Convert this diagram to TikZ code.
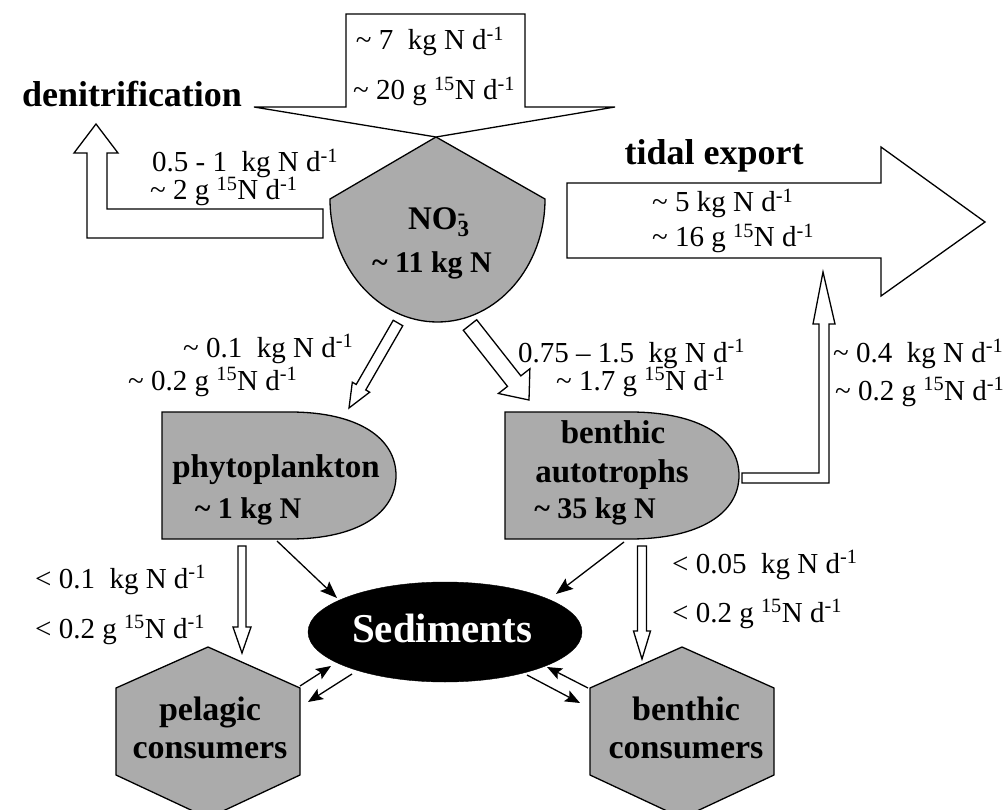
\documentclass[tikz,border=0pt]{standalone}
\usepackage{fontspec}
\setmainfont{Liberation Serif}
\usetikzlibrary{calc,arrows.meta,shapes.geometric}
\newcommand\tld{\textasciitilde}
\newcommand\dm{d\textsuperscript{-1}}
\newcommand\Nf{\textsuperscript{15}N}
\newcommand\harrow[5]{%
  \coordinate (hbase) at ($(#2)!#5!(#1)$);
  \draw[hollow] ($(#1)!#3!90:(#2)$) -- ($(hbase)!#3!-90:(#1)$) -- ($(hbase)!#4!-90:(#1)$) -- (#2) -- ($(hbase)!#4!90:(#1)$) -- ($(hbase)!#3!90:(#1)$) -- ($(#1)!#3!-90:(#2)$) -- cycle;}
\begin{document}
\begin{tikzpicture}[x=1pt,y=-1pt,
  lab/.style={font=\fontsize{29}{33}\selectfont, inner sep=0pt},
  bold/.style={font=\fontsize{33}{36}\selectfont\bfseries, inner sep=0pt},
  title/.style={font=\fontsize{36}{40}\selectfont\bfseries, inner sep=0pt},
  pool/.style={draw=black, line width=1.3pt, fill=black!33},
  hollow/.style={draw=black, line width=1.3pt, fill=white, line join=miter},
  flow/.style={line width=1.3pt, -{Stealth[length=17pt,width=13pt,inset=3pt]}},
  sflow/.style={line width=1.3pt, -{Stealth[length=15pt,width=12pt,inset=3pt]}}]
\useasboundingbox (0,0) rectangle (1004,810);

% ---- pools ----
\draw[pool] (436,137) -- (545,199) arc[start angle=0, end angle=-180, x radius=107.5pt, y radius=123pt] -- cycle;
\draw[pool] (162,412) -- (290,412) .. controls (358,412) and (396,438) .. (396,475.5) .. controls (396,513) and (358,539) .. (290,539) -- (162,539) -- cycle;
\draw[pool] (505,412) -- (630,412) .. controls (700,412) and (739,438) .. (739,475.5) .. controls (739,513) and (700,539) .. (630,539) -- (505,539) -- cycle;
\draw[pool] (208,647) -- (300,688) -- (300,775) -- (208,818) -- (116,775) -- (116,688) -- cycle;
\draw[pool] (682,647) -- (774,688) -- (774,775) -- (682,818) -- (590,775) -- (590,688) -- cycle;
\node[draw=black, fill=black, ellipse, minimum width=274pt, minimum height=100pt, inner sep=0pt] (sed) at (445,632) {};

% ---- big hollow arrows ----
\draw[hollow] (346,14) -- (525,14) -- (525,107) -- (615,107) -- (436,137) -- (254,107) -- (346,107) -- cycle;
\draw[hollow] (323,209) -- (107,209) -- (107,153) -- (118,153) -- (96,124) -- (74,153) -- (87,153) -- (87,238) -- (323,238) -- cycle;
\draw[hollow] (567,183) -- (881,183) -- (881,147) -- (985,222) -- (881,296) -- (881,258) -- (567,258) -- cycle;
\draw[hollow] (742,473) -- (819,473) -- (819,324) -- (813,324) -- (823,272) -- (835,324) -- (829,324) -- (829,483) -- (742,483) -- cycle;

% ---- small hollow arrows ----
\coordinate (n2pA) at (398,323); \coordinate (n2pB) at (349,408);
\harrow{n2pA}{n2pB}{5.5pt}{10pt}{24pt}
\coordinate (n2bA) at (470,325); \coordinate (n2bB) at (529,400);
\harrow{n2bA}{n2bB}{8.5pt}{20pt}{24pt}
\coordinate (p2cA) at (242,546); \coordinate (p2cB) at (242,653);
\harrow{p2cA}{p2cB}{4pt}{9pt}{26pt}
\coordinate (b2cA) at (642,546); \coordinate (b2cB) at (642,659);
\harrow{b2cA}{b2cB}{4.5pt}{8.5pt}{28pt}

% ---- thin flows ----
\coordinate (phyS) at (277,541); \coordinate (sedP) at (337,598);
\coordinate (benS) at (624,542); \coordinate (sedB) at (556,594);
\draw[flow] (phyS) -- (sedP);
\draw[flow] (benS) -- (sedB);
\coordinate (pel1) at (300,686); \coordinate (sedL1) at (331,666);
\coordinate (sedL2) at (352,674); \coordinate (pel2) at (308,702);
\draw[sflow] (pel1) -- (sedL1);
\draw[sflow] (sedL2) -- (pel2);
\coordinate (sedR1) at (527,675); \coordinate (bc1) at (580,703);
\coordinate (bc2) at (588,688); \coordinate (sedR2) at (547,667);
\draw[sflow] (sedR1) -- (bc1);
\draw[sflow] (bc2) -- (sedR2);

% ---- texts ----
\node[title, anchor=base] (denit) at (132,107) {denitrification};
\node[title, anchor=base] (tidal) at (714,165) {tidal export};
\node[lab, anchor=base] (in1) at (430,50) {\tld{} 7\ \ kg N \dm};
\node[lab, anchor=base] (in2) at (434,100) {\tld{} 20 g \Nf{} \dm};
\node[lab, anchor=base west] (dn1) at (152,172) {0.5 - 1\ \ kg N \dm};
\node[lab, anchor=base west] (dn2) at (150,200) {\tld{} 2 g \Nf{} \dm};
\node[lab, anchor=base west] (te1) at (652,212) {\tld{} 5 kg N \dm};
\node[lab, anchor=base west] (te2) at (652,247) {\tld{} 16 g \Nf{} \dm};
\node[bold, anchor=base] (no3) at (437,230) {NO\rlap{\textsubscript{3}}\textsuperscript{-}};
\node[bold, font=\fontsize{30}{34}\selectfont\bfseries, anchor=base] (no3m) at (432,273) {\tld{} 11 kg N};
\node[lab, anchor=base west] (np1) at (183,357) {\tld{} 0.1\ \ kg N \dm};
\node[lab, anchor=base west] (np2) at (128,390) {\tld{} 0.2 g \Nf{} \dm};
\node[lab, anchor=base west] (nb1) at (518,362) {0.75 -- 1.5\ \ kg N \dm};
\node[lab, anchor=base west] (nb2) at (556,390) {\tld{} 1.7 g \Nf{} \dm};
\node[lab, anchor=base west] (be1) at (833,362) {\tld{} 0.4\ \ kg N \dm};
\node[lab, anchor=base west] (be2) at (835,400) {\tld{} 0.2 g \Nf{} \dm};
\node[bold, anchor=base] (phy) at (276,477) {phytoplankton};
\node[bold, font=\fontsize{30}{34}\selectfont\bfseries, anchor=base] (phym) at (248,518) {\tld{} 1 kg N};
\node[bold, anchor=base] (ben1) at (613,443) {benthic};
\node[bold, anchor=base] (ben2) at (612,482) {autotrophs};
\node[bold, font=\fontsize{30}{34}\selectfont\bfseries, anchor=base] (benm) at (595,518) {\tld{} 35 kg N};
\node[lab, anchor=base west] (pc1) at (35,588) {< 0.1\ \ kg N \dm};
\node[lab, anchor=base west] (pc2) at (35,638) {< 0.2 g \Nf{} \dm};
\node[lab, anchor=base west] (bc1t) at (672,573) {< 0.05\ \ kg N \dm};
\node[lab, anchor=base west] (bc2t) at (672,622) {< 0.2 g \Nf{} \dm};
\node[font=\fontsize{41}{44}\selectfont\bfseries, text=white, inner sep=0pt, anchor=base] (sedt) at (442,642) {Sediments};
\node[bold, font=\fontsize{34}{36}\selectfont\bfseries, anchor=base] (pel1t) at (210,720) {pelagic};
\node[bold, font=\fontsize{34}{36}\selectfont\bfseries, anchor=base] (pel2t) at (210,758) {consumers};
\node[bold, font=\fontsize{34}{36}\selectfont\bfseries, anchor=base] (bcn1t) at (686,720) {benthic};
\node[bold, font=\fontsize{34}{36}\selectfont\bfseries, anchor=base] (bcn2t) at (686,758) {consumers};
\end{tikzpicture}
\end{document}
